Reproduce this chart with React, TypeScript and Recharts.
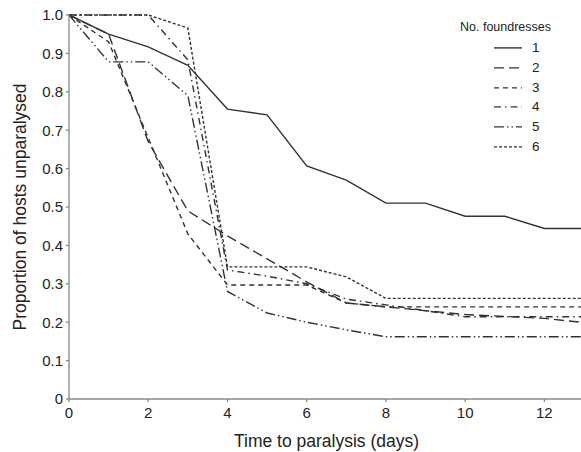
import React from 'react';
import { LineChart, Line, XAxis, YAxis } from 'recharts';

const days = [0, 1, 2, 3, 4, 5, 6, 7, 8, 9, 10, 11, 12, 13];
const s1 = [1.0, 0.95, 0.917, 0.869, 0.755, 0.74, 0.607, 0.57, 0.51, 0.51, 0.476, 0.476, 0.444, 0.444];
const s2 = [1.0, 0.95, 0.67, 0.49, 0.425, 0.365, 0.305, 0.25, 0.24, 0.23, 0.22, 0.215, 0.21, 0.199];
const s3 = [1.0, 0.93, 0.68, 0.43, 0.297, 0.297, 0.297, 0.25, 0.24, 0.24, 0.24, 0.24, 0.24, 0.24];
const s4 = [1.0, 1.0, 1.0, 0.883, 0.336, 0.32, 0.3, 0.26, 0.245, 0.23, 0.214, 0.214, 0.214, 0.214];
const s5 = [1.0, 0.878, 0.878, 0.79, 0.28, 0.224, 0.2, 0.18, 0.162, 0.162, 0.162, 0.162, 0.162, 0.162];
const s6 = [1.0, 1.0, 1.0, 0.966, 0.344, 0.344, 0.344, 0.318, 0.262, 0.262, 0.262, 0.262, 0.262, 0.262];

const seriesNames = ['1', '2', '3', '4', '5', '6'];
const seriesValues = [s1, s2, s3, s4, s5, s6];
const dashes = ['', '10 5', '5 4', '7 4 1.5 4', '10 3 1.5 3 1.5 3', '3 2'];

const xTicks = [0, 2, 4, 6, 8, 10, 12];
const yTicks = [0, 0.1, 0.2, 0.3, 0.4, 0.5, 0.6, 0.7, 0.8, 0.9, 1.0];

const data = days.map((d, i) => {
  const row: Record<string, number> = { day: d };
  seriesNames.forEach((n, k) => {
    row['s' + n] = seriesValues[k][i];
  });
  return row;
});

const FONT = '"Liberation Sans", Arial, sans-serif';
const INK = '#333333';

const LegendBox = () => (
  <div style={{ fontFamily: FONT, color: '#222', position: 'absolute', left: 460, top: 18, width: 125 }}>
    <div style={{ fontSize: 12.5, lineHeight: '18px', height: 18 }}>No. foundresses</div>
    <div style={{ height: 2 }} />
    {seriesNames.map((n, k) => (
      <div key={n} style={{ display: 'flex', alignItems: 'center', height: 19.8, paddingLeft: 34 }}>
        <svg width={28} height={19.8} style={{ display: 'block' }}>
          <line x1={0} y1={9.9} x2={28} y2={9.9} stroke={INK} strokeWidth={1.4} strokeDasharray={dashes[k] || undefined} />
        </svg>
        <span style={{ marginLeft: 10, fontSize: 13.5, lineHeight: '19.8px' }}>{n}</span>
      </div>
    ))}
  </div>
);

export default function App() {
  return (
    <div style={{ position: 'absolute', left: 0, top: 0, width: 581, height: 452, overflow: 'hidden', background: '#fff' }}>
      <LineChart width={584} height={452} data={data} margin={{ top: 15, right: 0, bottom: 0, left: 0 }}>
        <XAxis
          dataKey="day"
          type="number"
          domain={[0, 13]}
          ticks={xTicks}
          allowDataOverflow
          height={53}
          stroke="#888"
          strokeWidth={1.3}
          tickSize={3}
          tickMargin={5}
          tick={{ fill: '#222', fontSize: 15, fontFamily: FONT }}
          label={{ value: 'Time to paralysis (days)', position: 'insideBottom', offset: 5, fill: '#222', fontSize: 17.5, fontFamily: FONT }}
        />
        <YAxis
          type="number"
          domain={[0, 1]}
          ticks={yTicks}
          width={69}
          stroke="#888"
          strokeWidth={1.3}
          tickSize={3}
          tickMargin={3}
          tickFormatter={(v: number) => (v === 0 ? '0' : v.toFixed(1))}
          tick={{ fill: '#222', fontSize: 15, fontFamily: FONT }}
          label={{ value: 'Proportion of hosts unparalysed', angle: -90, position: 'insideLeft', offset: 20, fill: '#222', fontSize: 17.5, fontFamily: FONT, style: { textAnchor: 'middle' } }}
        />
        {seriesNames.map((n, k) => (
          <Line
            key={n}
            dataKey={'s' + n}
            type="linear"
            stroke={INK}
            strokeWidth={1.4}
            strokeDasharray={dashes[k] || undefined}
            dot={false}
            activeDot={false}
            isAnimationActive={false}
          />
        ))}
      </LineChart>
      <LegendBox />
    </div>
  );
}
